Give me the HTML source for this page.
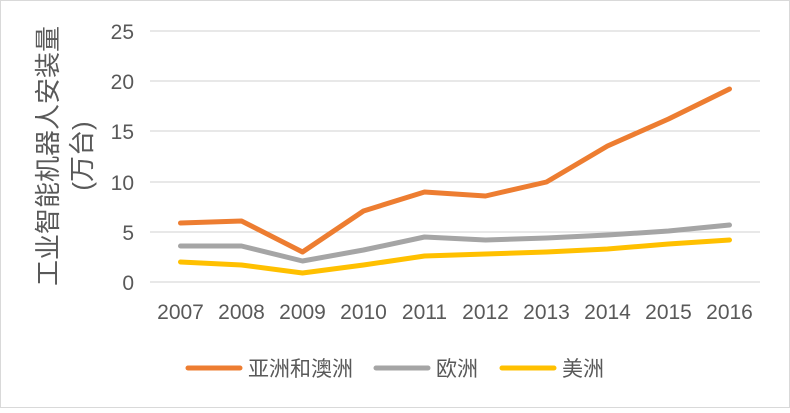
<!DOCTYPE html>
<html><head><meta charset="utf-8"><style>
body{margin:0;background:#fff}
svg text{font-family:"Liberation Sans","Noto Sans CJK SC",sans-serif;fill:#595959}
</style></head><body>
<svg width="790" height="408" viewBox="0 0 790 408" xmlns="http://www.w3.org/2000/svg">
<rect x="0.5" y="0.5" width="789" height="407" fill="#fff" stroke="#d9d9d9"/>
<g stroke="#d9d9d9" stroke-width="1.3">
<line x1="150" x2="760" y1="31" y2="31"/>
<line x1="150" x2="760" y1="81" y2="81"/>
<line x1="150" x2="760" y1="131" y2="131"/>
<line x1="150" x2="760" y1="182" y2="182"/>
<line x1="150" x2="760" y1="232" y2="232"/>
<line x1="150" x2="760" y1="282" y2="282"/>
</g>
<g font-size="21" text-anchor="end">
<text x="134" y="39">25</text><text x="134" y="89">20</text><text x="134" y="139">15</text>
<text x="134" y="190">10</text><text x="134" y="240">5</text><text x="134" y="290">0</text>
</g>
<g font-size="21" text-anchor="middle">
<text x="180.5" y="319">2007</text><text x="241.5" y="319">2008</text><text x="302.5" y="319">2009</text>
<text x="363.5" y="319">2010</text><text x="424.5" y="319">2011</text><text x="485.5" y="319">2012</text>
<text x="546.5" y="319">2013</text><text x="607.5" y="319">2014</text><text x="668.5" y="319">2015</text>
<text x="729.5" y="319">2016</text>
</g>
<g font-size="26" text-anchor="middle">
<text transform="translate(57,156) rotate(-90)">工业智能机器人安装量</text>
<text transform="translate(91,156) rotate(-90)">(万台)</text>
</g>
<g fill="none" stroke-width="5" stroke-linecap="round" stroke-linejoin="round">
<polyline stroke="#ed7d31" points="180.5,223 241.5,221 302.5,252 363.5,211 424.5,192 485.5,196 546.5,182 607.5,146 668.5,119 729.5,89"/>
<polyline stroke="#a5a5a5" points="180.5,246 241.5,246 302.5,261 363.5,250 424.5,237 485.5,240 546.5,238 607.5,235 668.5,231 729.5,225"/>
<polyline stroke="#ffc000" points="180.5,262 241.5,265 302.5,273 363.5,265 424.5,256 485.5,254 546.5,252 607.5,249 668.5,244 729.5,240"/>
</g>
<g stroke-width="5" stroke-linecap="round">
<line x1="188" x2="240" y1="368" y2="368" stroke="#ed7d31"/>
<line x1="376" x2="428" y1="368" y2="368" stroke="#a5a5a5"/>
<line x1="502" x2="554" y1="368" y2="368" stroke="#ffc000"/>
</g>
<g font-size="21">
<text x="248" y="376">亚洲和澳洲</text>
<text x="436" y="376">欧洲</text>
<text x="562" y="376">美洲</text>
</g>
</svg>
</body></html>
